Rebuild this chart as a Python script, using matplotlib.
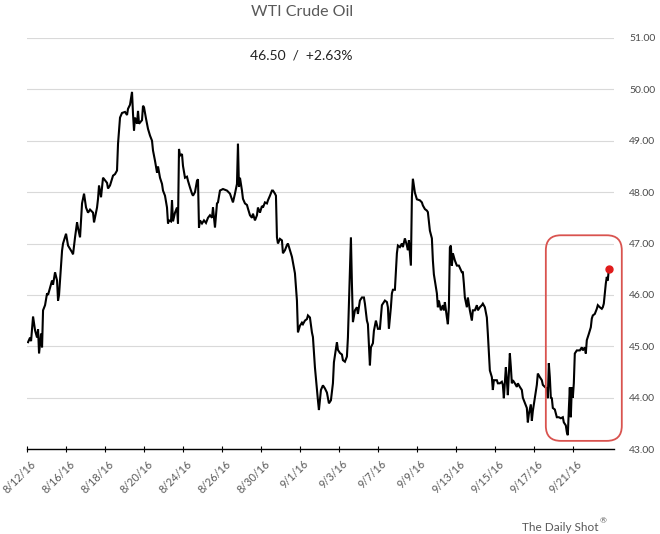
import numpy as np
import matplotlib.pyplot as plt
import matplotlib.transforms as mtransforms
from matplotlib.patches import FancyBboxPatch

# intraday bars (39 bars between date labels) and WTI price
bars = [1, 3, 4, 6, 8, 10, 11, 12, 14, 15, 16, 18, 20, 21, 25, 26, 28, 30, 31, 32,
        35, 36, 39, 41, 45, 46, 48, 50, 51, 53, 55, 57, 59, 61, 63, 66, 67, 70, 71, 72,
        74, 76, 80, 81, 83, 86, 88, 90, 91, 93, 95, 98, 100, 101, 103, 105, 106, 107, 108, 110,
        111, 112, 115, 116, 117, 119, 121, 123, 125, 126, 128, 130, 131, 133, 135, 136, 138, 140, 141, 142,
        144, 145, 146, 148, 150, 151, 152, 153, 155, 156, 158, 160, 161, 163, 165, 166, 168, 170, 171, 172,
        173, 175, 177, 179, 181, 183, 185, 186, 188, 190, 191, 193, 196, 200, 203, 206, 208, 210, 211, 212,
        213, 215, 216, 218, 220, 221, 223, 225, 226, 228, 230, 231, 233, 235, 236, 238, 240, 241, 243, 245,
        246, 248, 249, 250, 251, 253, 255, 256, 258, 260, 261, 263, 265, 266, 268, 270, 271, 273, 275, 276,
        278, 280, 281, 283, 285, 286, 288, 290, 291, 292, 294, 296, 298, 300, 302, 304, 306, 307, 310, 311,
        313, 315, 316, 318, 320, 321, 322, 324, 325, 326, 328, 330, 331, 333, 335, 337, 338, 340, 341, 343,
        344, 346, 347, 349, 351, 353, 355, 356, 358, 360, 361, 362, 364, 365, 366, 368, 370, 371, 373, 375,
        376, 378, 380, 381, 382, 384, 385, 386, 388, 390, 393, 395, 396, 398, 400, 401, 403, 405, 406, 407,
        408, 410, 411, 412, 414, 416, 417, 418, 420, 421, 422, 423, 424, 425, 426, 428, 430, 432, 435, 436,
        437, 438, 440, 441, 443, 445, 446, 448, 450, 451, 453, 455, 456, 458, 460, 461, 463, 465, 466, 467,
        470, 471, 473, 475, 476, 477, 479, 480, 481, 483, 484, 485, 486, 488, 490, 491, 493, 495, 496, 498,
        500, 501, 502, 504, 505, 506, 508, 510, 511, 513, 515, 516, 518, 520, 521, 522, 523, 524, 525, 526,
        528, 530, 532, 534, 536, 537, 539, 540, 541, 542, 543, 544, 545, 546, 547, 548, 550, 553, 555, 556,
        558, 559, 560, 562, 564, 565, 566, 568, 570, 571, 573, 575, 576, 577, 579, 580, 581, 582]
price = [45.08, 45.17, 45.10, 45.58, 45.31, 45.17, 45.33, 44.86, 45.25, 44.98, 45.70, 45.80, 46.03, 46.00, 46.28, 46.20, 46.44, 46.28, 45.89, 46.00,
         46.86, 47.00, 47.19, 46.96, 46.83, 46.79, 47.12, 47.41, 47.30, 47.12, 47.78, 47.97, 47.70, 47.60, 47.66, 47.60, 47.41, 47.70, 47.87, 48.13,
         47.90, 48.28, 48.18, 48.07, 48.13, 48.32, 48.35, 48.42, 48.94, 49.45, 49.54, 49.56, 49.50, 49.62, 49.70, 49.95, 49.52, 49.20, 49.45, 49.33,
         49.58, 49.33, 49.40, 49.68, 49.65, 49.43, 49.23, 49.10, 49.00, 48.81, 48.61, 48.38, 48.50, 48.28, 48.16, 48.03, 47.93, 47.70, 47.39, 47.45,
         47.43, 47.84, 47.43, 47.60, 47.70, 47.39, 48.84, 48.71, 48.74, 48.51, 48.28, 48.30, 48.22, 48.09, 47.97, 47.93, 48.00, 48.22, 48.25, 47.31,
         47.45, 47.39, 47.45, 47.40, 47.50, 47.55, 47.50, 47.70, 47.31, 47.78, 47.80, 48.03, 48.06, 48.03, 47.97, 47.80, 47.97, 48.16, 48.94, 48.10,
         48.28, 48.03, 47.87, 47.78, 47.75, 47.68, 47.55, 47.50, 47.58, 47.45, 47.55, 47.70, 47.60, 47.73, 47.70, 47.80, 47.78, 47.84, 47.93, 48.03,
         48.03, 47.97, 47.93, 47.12, 47.00, 47.09, 47.06, 46.81, 46.87, 46.97, 47.00, 46.87, 46.74, 46.63, 46.42, 45.89, 45.27, 45.40, 45.46, 45.43,
         45.50, 45.53, 45.60, 45.56, 45.27, 45.18, 44.59, 44.15, 43.95, 43.76, 44.15, 44.24, 44.18, 44.10, 43.89, 43.95, 44.28, 44.69, 45.08, 44.93,
         44.87, 44.84, 44.73, 44.70, 44.80, 45.17, 45.83, 47.12, 46.22, 45.47, 45.70, 45.76, 45.63, 45.89, 45.95, 45.95, 45.83, 45.50, 45.43, 44.63,
         44.98, 45.06, 45.30, 45.50, 45.34, 45.34, 45.80, 45.83, 45.89, 45.86, 45.76, 45.34, 45.76, 46.03, 46.10, 46.10, 46.81, 46.96, 46.93, 47.00,
         46.93, 47.10, 46.96, 46.87, 47.06, 46.57, 47.90, 48.26, 47.99, 47.86, 47.84, 47.80, 47.74, 47.67, 47.64, 47.61, 47.25, 47.10, 46.67, 46.40,
         46.28, 46.03, 45.76, 45.89, 45.70, 45.80, 45.70, 45.86, 45.56, 45.43, 45.76, 46.92, 46.96, 46.57, 46.81, 46.67, 46.57, 46.57, 46.44, 46.44,
         46.22, 45.95, 45.76, 45.95, 45.70, 45.50, 45.70, 45.70, 45.80, 45.70, 45.76, 45.80, 45.83, 45.76, 45.56, 45.24, 44.53, 44.40, 44.15, 44.34,
         44.34, 44.28, 44.28, 44.31, 44.25, 43.99, 44.59, 44.34, 44.05, 44.86, 44.60, 44.28, 44.34, 44.28, 44.21, 44.28, 44.21, 44.15, 44.00, 43.90,
         43.80, 43.52, 43.68, 43.87, 43.55, 43.74, 44.00, 44.25, 44.47, 44.40, 44.34, 44.25, 44.21, 44.18, 43.99, 44.67, 44.40, 44.00, 43.99, 43.80,
         43.77, 43.62, 43.62, 43.60, 43.62, 43.52, 43.46, 43.33, 43.27, 43.77, 44.20, 43.62, 44.20, 44.00, 44.28, 44.86, 44.92, 44.92, 44.98, 44.92,
         44.98, 44.86, 45.12, 45.24, 45.37, 45.54, 45.60, 45.63, 45.73, 45.80, 45.76, 45.73, 45.76, 45.83, 46.22, 46.35, 46.28, 46.50]

date_labels = ['8/12/16', '8/16/16', '8/18/16', '8/20/16', '8/24/16', '8/26/16', '8/30/16', '9/1/16',
               '9/3/16', '9/7/16', '9/9/16', '9/13/16', '9/15/16', '9/17/16', '9/21/16']
bars_per_label = 39
y_ticks = [43, 44, 45, 46, 47, 48, 49, 50, 51]
last_text = '46.50  /  +2.63%'

plt.rcParams['font.family'] = ['Lato', 'DejaVu Sans']
grey = '#595959'

fig = plt.figure(figsize=(6.6, 5.34), dpi=100)
ax = fig.add_axes([0.041, 0.159, 0.889, 0.77])

ax.plot(bars, price, color='black', lw=1.5, solid_joinstyle='miter')
ax.plot(bars[-1], price[-1], 'o', color='#e01b1b', ms=5, zorder=5)

ax.set_xlim(0, 587)
ax.set_ylim(y_ticks[0], y_ticks[-1])

ax.set_yticks(y_ticks)
ax.set_yticklabels([f'{v:.2f}' for v in y_ticks])
ax.yaxis.tick_right()
ax.yaxis.grid(True, color='#d9d9d9', lw=0.8)
ax.set_axisbelow(True)
ax.tick_params(axis='y', length=0, pad=11, labelsize=7.5, labelcolor='#4a4a4a')

ax.set_xticks(np.arange(len(date_labels)) * bars_per_label)
ax.set_xticklabels(date_labels, rotation=45, ha='right', rotation_mode='anchor')
ax.tick_params(axis='x', direction='inout', length=5, width=0.8, color='black',
               labelsize=7.8, labelcolor=grey, pad=4)
shift = mtransforms.ScaledTranslation(3 / 100, 0, fig.dpi_scale_trans)
for lab in ax.get_xticklabels():
    lab.set_transform(lab.get_transform() + shift)

for s in ['top', 'left', 'right']:
    ax.spines[s].set_visible(False)
ax.spines['bottom'].set_linewidth(1.0)

# highlight of the latest move
px_per_unit = ax.get_position().height * fig.get_figheight() * fig.dpi / (y_ticks[-1] - y_ticks[0])
box = FancyBboxPatch((519, 43.16), 76, 4.0, boxstyle='round,pad=0,rounding_size=15',
                     mutation_aspect=1 / px_per_unit, fill=False, ec='#d9534f', lw=1.3,
                     clip_on=False, zorder=4)
ax.add_patch(box)

fig.text(0.457, 0.977, 'WTI Crude Oil', ha='center', va='center', fontsize=11.5, color=grey)
fig.text(0.457, 0.897, last_text, ha='center', va='center', fontsize=10, color='#222222')
fig.text(0.907, 0.013, 'The Daily Shot', ha='right', va='center', fontsize=8.5, color=grey)
fig.text(0.909, 0.024, '®', ha='left', va='center', fontsize=6, color=grey)

fig.savefig('out.png', dpi=100)
